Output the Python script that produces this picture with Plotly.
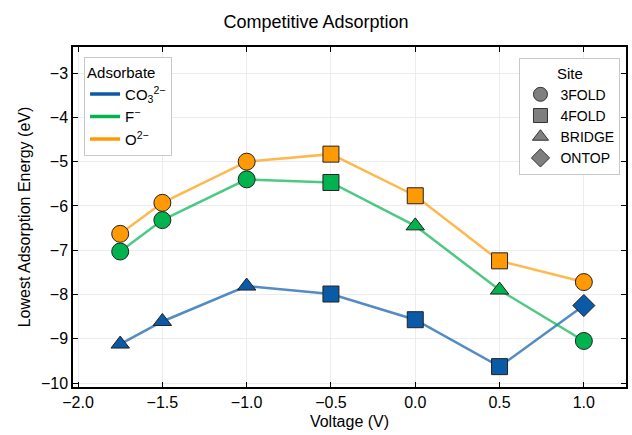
import plotly.graph_objects as go

voltage = [-1.75, -1.5, -1.0, -0.5, 0.0, 0.5, 1.0]
co3_energy = [-9.12, -8.61, -7.81, -7.99, -8.57, -9.63, -8.25]
f_energy = [-7.03, -6.32, -5.40, -5.47, -6.45, -7.90, -9.05]
o_energy = [-6.63, -5.93, -5.00, -4.83, -5.77, -7.24, -7.72]
co3_site = ["BRIDGE", "BRIDGE", "BRIDGE", "4FOLD", "4FOLD", "4FOLD", "ONTOP"]
f_site = ["3FOLD", "3FOLD", "3FOLD", "4FOLD", "BRIDGE", "BRIDGE", "3FOLD"]
o_site = ["3FOLD", "3FOLD", "3FOLD", "4FOLD", "4FOLD", "4FOLD", "3FOLD"]
adsorbates = ["CO<sub>3</sub><sup>2−</sup>", "F<sup>−</sup>", "O<sup>2−</sup>"]
sites = ["3FOLD", "4FOLD", "BRIDGE", "ONTOP"]
x_ticks = [-2.0, -1.5, -1.0, -0.5, 0.0, 0.5, 1.0]
y_ticks = [-10, -9, -8, -7, -6, -5, -4, -3]

colors = ["#0b5aa8", "#00b34f", "#ff9a05"]
line_colors = ["rgba(11,90,168,0.7)", "rgba(0,179,79,0.7)", "rgba(255,154,5,0.7)"]
symbol_map = {"3FOLD": "circle", "4FOLD": "square", "BRIDGE": "triangle-up", "ONTOP": "diamond"}
size_map = {"3FOLD": 17, "4FOLD": 16, "BRIDGE": 16, "ONTOP": 17}

series = [(co3_energy, co3_site), (f_energy, f_site), (o_energy, o_site)]
font = "Liberation Sans, Arial, sans-serif"

fig = go.Figure()
# lines
for i, (e, s) in enumerate(series):
    fig.add_trace(go.Scatter(x=voltage, y=e, mode="lines",
                             line=dict(color=line_colors[i], width=2.5),
                             showlegend=False, hoverinfo="skip"))
# markers
for i, (e, s) in enumerate(series):
    fig.add_trace(go.Scatter(x=voltage, y=e, mode="markers",
                             marker=dict(color=colors[i], opacity=1,
                                         symbol=[symbol_map[k] for k in s],
                                         size=[size_map[k] for k in s],
                                         line=dict(color="#222222", width=1)),
                             showlegend=False))
# adsorbate legend
for i, name in enumerate(adsorbates):
    fig.add_trace(go.Scatter(x=[None], y=[None], mode="lines", name=name,
                             line=dict(color=colors[i], width=3.5), legend="legend"))
# site legend
for s in sites:
    fig.add_trace(go.Scatter(x=[None], y=[None], mode="markers", name=s,
                             marker=dict(color="#7f7f7f", symbol=symbol_map[s], size=14,
                                         opacity=1, line=dict(color="#333333", width=1)),
                             legend="legend2"))

axis_common = dict(showline=True, linecolor="black", linewidth=1.5, mirror="allticks",
                   ticks="inside", ticklen=5, tickwidth=1, tickcolor="black",
                   showgrid=True, gridcolor="#ececec", gridwidth=1, zeroline=False,
                   tickfont=dict(size=16, color="black", family=font))

fig.update_layout(
    width=632, height=435,
    margin=dict(l=73, r=4, t=47, b=48),
    paper_bgcolor="white", plot_bgcolor="white",
    font=dict(family=font, color="black"),
    title=dict(text="Competitive Adsorption", x=0.5, xanchor="center", y=0.95,
               yanchor="middle", font=dict(size=18, color="black")),
    xaxis=dict(range=[-2.03, 1.25], tickvals=x_ticks,
               ticktext=[f"{v:.1f}".replace("-", "−") for v in x_ticks],
               title=dict(text="Voltage (V)", font=dict(size=16), standoff=6), **axis_common),
    yaxis=dict(range=[-10.09, -2.41], tickvals=y_ticks,
               ticktext=[str(v).replace("-", "−") for v in y_ticks],
               title=dict(text="Lowest Adsorption Energy (eV)", font=dict(size=16), standoff=6),
               **axis_common),
    legend=dict(title=dict(text="Adsorbate", font=dict(size=15)), x=0.02, y=0.97,
                xanchor="left", yanchor="top", bgcolor="white", bordercolor="#c8c8c8",
                borderwidth=1, font=dict(size=15), tracegroupgap=2),
    legend2=dict(title=dict(text="Site", font=dict(size=15), side="top center"), x=0.99, y=0.967,
                 xanchor="right", yanchor="top", bgcolor="white", bordercolor="#c8c8c8",
                 borderwidth=1, font=dict(size=14), itemwidth=30),
)

fig.write_html("out.html", config={"displayModeBar": False},
               post_script="document.body.style.margin='0';")
